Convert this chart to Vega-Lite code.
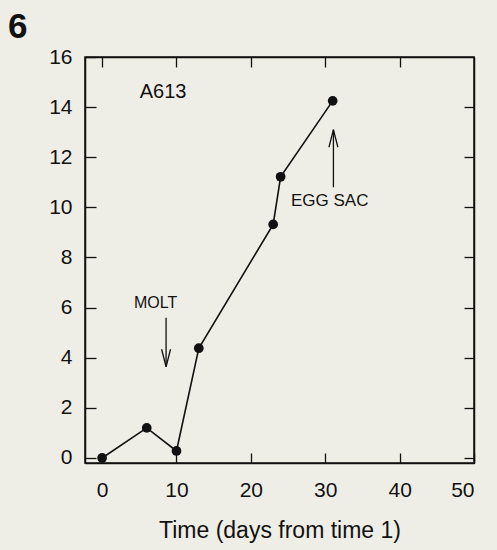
{
  "$schema": "https://vega.github.io/schema/vega-lite/v6.json",
  "autosize": "none",
  "padding": {"left": 85, "top": 57, "right": 23, "bottom": 87},
  "width": 389,
  "height": 406,
  "background": "#efeee6",
  "title": {"text": "6", "anchor": "start", "frame": "group", "fontSize": 35, "fontWeight": "bold", "font": "Liberation Sans", "color": "#111111", "dx": -77, "dy": 23, "offset": -4, "baseline": "alphabetic"},
  "config": {
    "view": {"stroke": "#111111", "strokeWidth": 1.5},
    "axis": {"domainColor": "#111111", "domainWidth": 1.5, "tickColor": "#111111", "tickWidth": 1.3, "grid": false, "labelFont": "Liberation Sans", "labelFontSize": 21, "labelColor": "#111111", "titleFont": "Liberation Sans", "titleFontSize": 23, "titleFontWeight": "normal", "titleColor": "#111111"}
  },
  "datasets": {
    "main": [
      {"t": 0, "v": 0},
      {"t": 6, "v": 1.2},
      {"t": 10, "v": 0.28},
      {"t": 13, "v": 4.38},
      {"t": 23, "v": 9.32},
      {"t": 24, "v": 11.22},
      {"t": 31, "v": 14.25}
    ],
    "notes": [
      {"t": 8.2, "v": 14.62, "label": "A613", "size": 20},
      {"t": 7.2, "v": 6.2, "label": "MOLT", "size": 16},
      {"t": 30.6, "v": 10.25, "label": "EGG SAC", "size": 17}
    ],
    "arrows": [
      {"seg": "molt_shaft", "o": 1, "t": 8.6, "v": 5.6},
      {"seg": "molt_shaft", "o": 2, "t": 8.6, "v": 3.64},
      {"seg": "molt_head", "o": 1, "t": 8.0, "v": 4.34},
      {"seg": "molt_head", "o": 2, "t": 8.6, "v": 3.64},
      {"seg": "molt_head", "o": 3, "t": 9.2, "v": 4.34},
      {"seg": "egg_shaft", "o": 1, "t": 31.1, "v": 10.8},
      {"seg": "egg_shaft", "o": 2, "t": 31.1, "v": 13.1},
      {"seg": "egg_head", "o": 1, "t": 30.5, "v": 12.4},
      {"seg": "egg_head", "o": 2, "t": 31.1, "v": 13.1},
      {"seg": "egg_head", "o": 3, "t": 31.7, "v": 12.4}
    ]
  },
  "resolve": {"axis": {"x": "independent", "y": "independent"}},
  "layer": [
    {
      "data": {"name": "main"},
      "mark": {"type": "line", "color": "#111111", "strokeWidth": 1.6},
      "encoding": {
        "x": {"field": "t", "type": "quantitative", "scale": {"domain": [-2.3, 50], "nice": false, "zero": false},
              "axis": {"orient": "bottom", "values": [0, 10, 20, 30, 40, 50], "tickSize": -10, "labelPadding": 26, "title": "Time (days from time 1)", "titlePadding": 19}},
        "y": {"field": "v", "type": "quantitative", "scale": {"domain": [-0.2, 16], "nice": false, "zero": false},
              "axis": {"orient": "left", "values": [0, 2, 4, 6, 8, 10, 12, 14, 16], "tickSize": -11, "labelPadding": 24, "title": null}}
      }
    },
    {
      "data": {"name": "main"},
      "mark": {"type": "point", "filled": true, "color": "#111111", "size": 95, "opacity": 1},
      "encoding": {
        "x": {"field": "t", "type": "quantitative", "scale": {"domain": [-2.3, 50], "nice": false, "zero": false}, "axis": null},
        "y": {"field": "v", "type": "quantitative", "scale": {"domain": [-0.2, 16], "nice": false, "zero": false}, "axis": null}
      }
    },
    {
      "data": {"name": "notes"},
      "mark": {"type": "text", "font": "Liberation Sans", "color": "#111111", "align": "center", "baseline": "middle"},
      "encoding": {
        "x": {"field": "t", "type": "quantitative", "scale": {"domain": [-2.3, 50], "nice": false, "zero": false},
              "axis": {"orient": "top", "values": [0, 10, 20, 30, 40], "tickSize": -10, "labels": false, "title": null}},
        "y": {"field": "v", "type": "quantitative", "scale": {"domain": [-0.2, 16], "nice": false, "zero": false},
              "axis": {"orient": "right", "values": [0, 2, 4, 6, 8, 10, 12, 14], "tickSize": -10, "labels": false, "title": null}},
        "text": {"field": "label"},
        "size": {"field": "size", "type": "quantitative", "scale": null}
      }
    },
    {
      "data": {"name": "arrows"},
      "mark": {"type": "line", "color": "#111111", "strokeWidth": 1.3},
      "encoding": {
        "x": {"field": "t", "type": "quantitative", "scale": {"domain": [-2.3, 50], "nice": false, "zero": false}, "axis": null},
        "y": {"field": "v", "type": "quantitative", "scale": {"domain": [-0.2, 16], "nice": false, "zero": false}, "axis": null},
        "detail": {"field": "seg"},
        "order": {"field": "o"}
      }
    }
  ]
}
